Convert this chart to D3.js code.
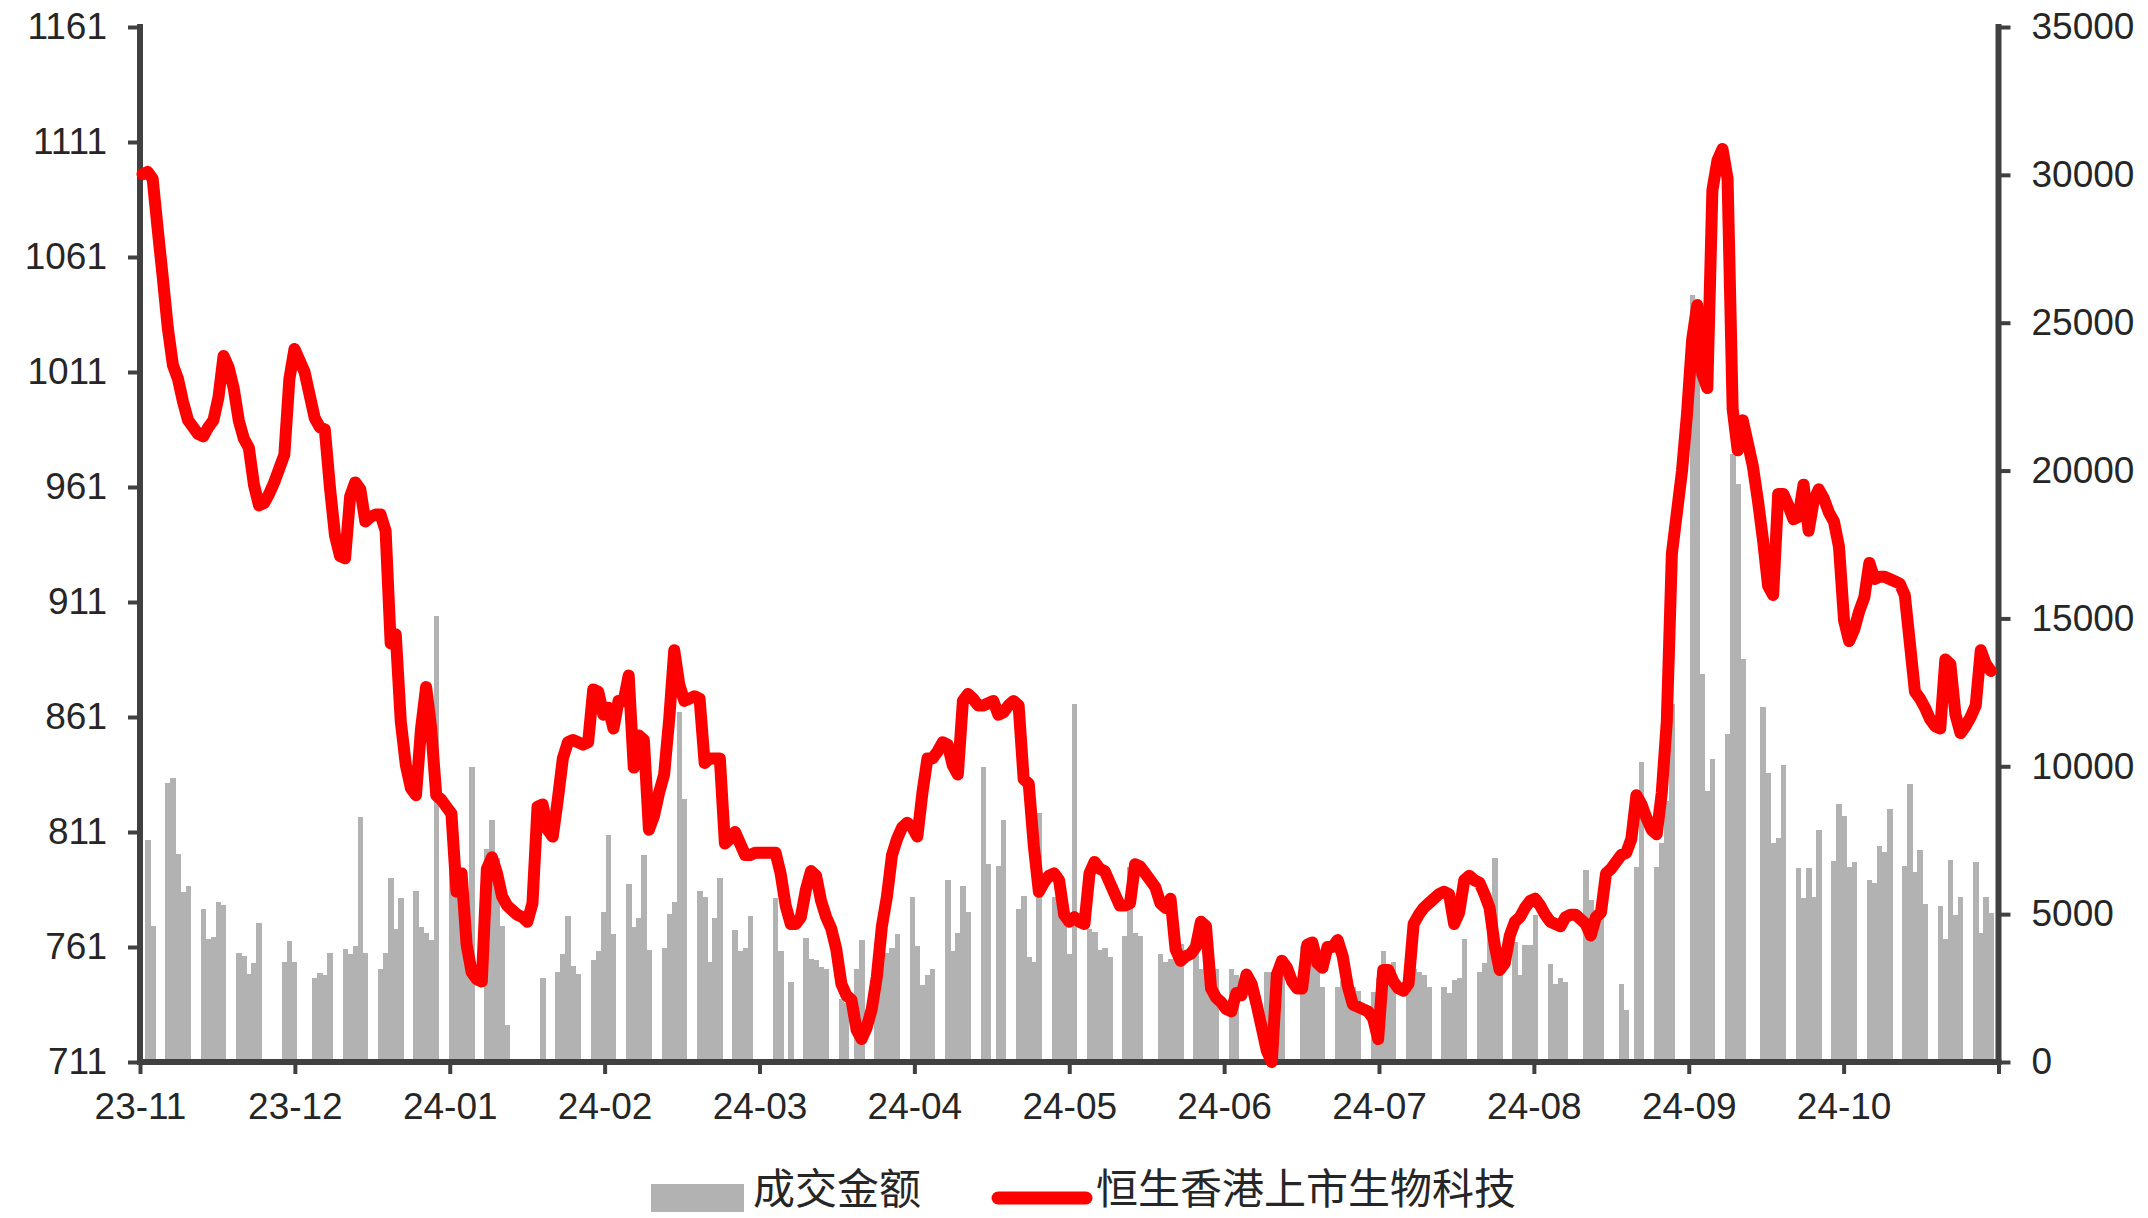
<!DOCTYPE html>
<html>
<head>
<meta charset="utf-8">
<script src="https://cdn.jsdelivr.net/npm/d3@7"></script>
<style>
  html, body { margin: 0; padding: 0; background: #fff; }
  svg { display: block; }
</style>
</head>
<body>
<svg id="chart" width="2148" height="1218"></svg>
<script>
// ---- data -------------------------------------------------------------
// One entry per calendar day, starting 2023-11-01; null = no bar that day.
const firstDay = "2023-11-01";
const axisEndDay = "2024-11-02";

const tickLabels = ["23-11","23-12","24-01","24-02","24-03","24-04","24-05","24-06","24-07","24-08","24-09","24-10"];
const leftTicks = [711, 761, 811, 861, 911, 961, 1011, 1061, 1111, 1161];
const rightTicks = [0, 5000, 10000, 15000, 20000, 25000, 30000, 35000];

// 成交金额 (daily turnover)
const turnoverNov = [null,7500,4600,null,null,9450,9600,7050,5750,5950,null,null,5170,4150,4240,5420,5320,null,null,3690,3590,2970,3340,4700,null,null,null,null,3380,4090];
const turnoverDec = [3380,null,null,null,2830,3020,2930,3690,null,null,3830,3650,3910,8270,3690,null,null,3140,3690,6230,4500,5540,null,null,5790,4560,4360,4120,15090,null,null];
const turnoverJan = [6840,6200,5800,4500,9960,null,null,7200,8200,6900,4600,1240,null,null,null,null,null,null,2830,null,null,3040,3650,4930,3240,2970,null,null,3440,3750,5070];
const turnoverFeb = [7660,4320,null,null,6030,4560,4870,7010,3790,null,null,3850,5010,5420,11840,8880,null,null,5790,5580,3380,4870,6230,null,null,4460,3750,3850,4930];
const turnoverMar = [null,null,null,null,5540,3750,null,2690,null,null,4200,3500,3440,3200,3140,null,null,2120,2000,null,3140,4120,null,null,2300,3300,3700,3850,4320,null,null];
const turnoverApr = [5580,3910,2600,2930,3140,null,null,6150,3750,4360,5950,5070,null,null,9960,6700,null,6640,8190,null,null,5170,5620,3540,3380,8430,null,null,5580,5200];
const turnoverMay = [4970,3650,12100,null,null,4500,4400,3790,3850,3540,null,null,4260,6600,4360,4260,null,null,null,3650,3380,3500,3540,3990,null,null,3950,3140,3240,3200,3140];
const turnoverJun = [null,null,3140,2930,null,null,null,null,null,3040,3040,3040,3000,null,null,null,3910,3500,3440,3400,2530,null,null,2530,2730,2600,2530,2400,null,null];
const turnoverJul = [2360,2830,3750,2830,3380,null,null,3100,3140,3040,2930,2530,null,null,2530,2320,2770,2830,4160,null,null,3040,3340,4770,6910,3500,null,null,4050,2930,3950];
const turnoverAug = [3950,4970,null,null,3300,2630,2830,2690,null,null,null,6500,5480,5100,4900,null,null,null,2630,1750,null,6600,10160,null,null,6600,7400,8840,12100,null,null];
const turnoverSep = [null,25950,25800,13120,9150,10230,null,null,11080,20550,19540,13630,null,null,null,12000,9760,7420,7580,10060,null,null,6560,5540,6560,5580,7860,null,null,6800];
const turnoverOct = [8740,8330,6600,6760,null,null,6150,6050,7310,7110,8540,null,null,6640,9400,6440,7170,5340,null,null,5280,4160,6840,4970,5580,null,null,6760,4360,5580,5050];

// 恒生香港上市生物科技 (index level)
const levelNov = [1097,1098,1095,1073,1052,1030,1014,1008,998,990,987,984,983,987,990,1000,1018,1013,1004,990,982,978,962,953,954,958,963,969,975,1008];
const levelDec = [1021,1016,1011,1001,991,987,986,961,940,931,930,957,963,960,946,948,949,949,942,893,897,859,840,830,827,856,874,856,827,825,822];
const levelJan = [819,785,793,762,750,747,746,795,800,793,783,779,777,775,774,772,780,822,823,812,809,825,843,850,851,850,849,850,873,872,862];
const levelFeb = [865,856,868,868,879,839,853,851,812,818,828,836,860,890,875,868,869,870,869,841,843,843,843,806,808,811,806,801,801];
const levelMar = [802,802,802,802,802,793,779,771,771,774,786,794,792,781,774,769,760,745,740,738,725,721,726,734,748,770,783,801,808,813,815];
const levelApr = [813,809,828,843,843,846,850,849,840,836,868,871,869,866,866,867,868,862,863,866,868,866,834,832,805,785,789,792,793,790];
const levelMay = [775,772,774,772,771,793,798,795,794,789,784,779,779,780,797,796,793,790,787,780,778,782,760,755,757,758,761,772,770,743,739];
const levelJun = [737,734,733,741,740,749,745,736,726,716,711,749,755,752,746,743,743,762,763,754,752,761,761,764,757,744,736,735,734,733];
const levelJul = [730,721,751,751,746,743,742,745,771,775,778,780,782,784,785,784,771,776,790,792,790,789,784,778,762,751,754,766,772,774,778];
const levelAug = [781,782,779,775,772,771,770,774,775,775,773,771,766,774,776,793,795,798,801,802,808,827,823,817,812,810,828,859,932,950,968];
const levelSep = [993,1025,1040,1010,1004,1090,1103,1108,1095,995,977,990,980,970,955,938,918,914,958,958,953,947,948,962,942,955,960,956,950,946];
const levelOct = [935,903,894,899,907,913,928,921,922,922,921,920,919,914,893,872,869,865,860,857,856,886,884,862,854,857,861,866,890,884,881];

const legendBar = "成交金额";
const legendLine = "恒生香港上市生物科技";

// ---- layout & scales ----------------------------------------------------
const parseDay = d3.timeParse("%Y-%m-%d");
const start = parseDay(firstDay);
const end = parseDay(axisEndDay);

const plot = { left: 140, right: 1998.5, top: 27, bottom: 1062 };
const axisColor = "#404040";
const textColor = "#262626";
const numFont = "'Liberation Sans', Arial, Helvetica, sans-serif";
const cjkFont = "'Noto Sans CJK SC', 'Noto Sans', sans-serif";

const x = d3.scaleTime().domain([start, end]).range([plot.left, plot.right]);
const yL = d3.scaleLinear().domain([711, 1161]).range([plot.bottom, plot.top]);
const yR = d3.scaleLinear().domain([0, 35000]).range([plot.bottom, plot.top]);
// month labels sit at equal steps along the date axis
const xTick = d3.scaleLinear().domain([0, tickLabels.length]).range([plot.left, plot.right]);

const turnover = [].concat(turnoverNov, turnoverDec, turnoverJan, turnoverFeb, turnoverMar, turnoverApr,
                           turnoverMay, turnoverJun, turnoverJul, turnoverAug, turnoverSep, turnoverOct);
const level = [].concat(levelNov, levelDec, levelJan, levelFeb, levelMar, levelApr,
                        levelMay, levelJun, levelJul, levelAug, levelSep, levelOct);

const days = turnover.map((_, i) => d3.timeDay.offset(start, i));
const bars = days.map((d, i) => ({ day: d, value: turnover[i] })).filter(d => d.value != null);
const points = days.map((d, i) => ({ day: d, value: level[i] })).filter(d => d.value != null);
const mid = d => new Date(+d + 12 * 3600 * 1000);

const svg = d3.select("#chart");

// ---- bars (right axis) --------------------------------------------------
svg.append("g")
  .attr("shape-rendering", "crispEdges")
  .selectAll("rect")
  .data(bars)
  .join("rect")
  .attr("x", d => x(d.day))
  .attr("width", d => x(d3.timeDay.offset(d.day, 1)) - x(d.day) + 0.4)
  .attr("y", d => yR(d.value))
  .attr("height", d => yR(0) - yR(d.value))
  .attr("fill", "#b2b2b2");

// ---- axes ---------------------------------------------------------------
function styleAxis(g) {
  g.select(".domain").remove();
  g.selectAll(".tick line").attr("stroke", axisColor).attr("stroke-width", 4);
  g.selectAll(".tick text")
    .attr("fill", textColor)
    .style("font-family", numFont)
    .style("font-size", "37px");
}

svg.append("g")
  .attr("transform", `translate(${plot.left},0)`)
  .call(d3.axisLeft(yL).tickValues(leftTicks).tickFormat(d3.format("d")).tickSize(12).tickSizeOuter(0).tickPadding(21))
  .call(styleAxis);

svg.append("g")
  .attr("transform", `translate(${plot.right},0)`)
  .call(d3.axisRight(yR).tickValues(rightTicks).tickFormat(d3.format("d")).tickSize(12).tickSizeOuter(0).tickPadding(21))
  .call(styleAxis);

svg.append("g")
  .attr("transform", `translate(0,${plot.bottom})`)
  .call(d3.axisBottom(xTick).tickValues(d3.range(tickLabels.length + 1))
        .tickFormat(i => tickLabels[i] || "").tickSize(12).tickSizeOuter(0).tickPadding(19))
  .call(styleAxis);

const axisLines = svg.append("g").attr("stroke", axisColor).attr("stroke-width", 6).attr("stroke-linecap", "square");
axisLines.append("line").attr("x1", plot.left).attr("x2", plot.left).attr("y1", plot.top).attr("y2", plot.bottom);
axisLines.append("line").attr("x1", plot.right).attr("x2", plot.right).attr("y1", plot.top).attr("y2", plot.bottom);
axisLines.append("line").attr("x1", plot.left).attr("x2", plot.right).attr("y1", plot.bottom).attr("y2", plot.bottom);

// ---- index line (left axis) ---------------------------------------------
const line = d3.line()
  .x(d => x(mid(d.day)))
  .y(d => yL(d.value));

svg.append("path")
  .datum(points)
  .attr("d", line)
  .attr("fill", "none")
  .attr("stroke", "#ff0000")
  .attr("stroke-width", 12)
  .attr("stroke-linejoin", "round")
  .attr("stroke-linecap", "round");

// ---- legend ------------------------------------------------------------
const legend = svg.append("g");
legend.append("rect")
  .attr("x", 651).attr("y", 1184).attr("width", 93).attr("height", 28)
  .attr("fill", "#b2b2b2");
legend.append("text")
  .attr("x", 753).attr("y", 1204)
  .attr("fill", textColor)
  .style("font-family", cjkFont)
  .style("font-size", "42px")
  .text(legendBar);
legend.append("line")
  .attr("x1", 998).attr("x2", 1086).attr("y1", 1198).attr("y2", 1198)
  .attr("stroke", "#ff0000").attr("stroke-width", 13).attr("stroke-linecap", "round");
legend.append("text")
  .attr("x", 1096).attr("y", 1204)
  .attr("fill", textColor)
  .style("font-family", cjkFont)
  .style("font-size", "42px")
  .text(legendLine);
</script>
</body>
</html>
